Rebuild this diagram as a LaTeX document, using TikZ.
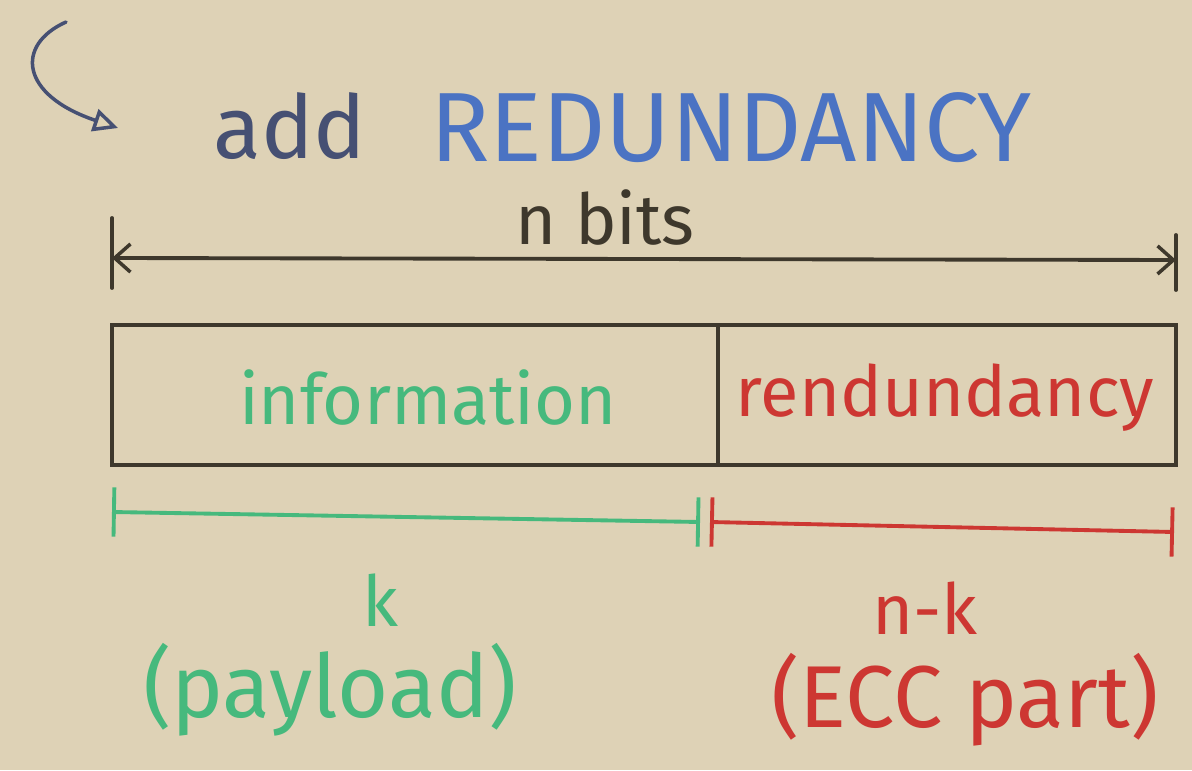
\documentclass[tikz,border=0pt]{standalone}
\usepackage{fontspec}
\setsansfont{Fira Sans}
\usetikzlibrary{arrows,arrows.meta,positioning,calc}
\definecolor{board}{RGB}{222,210,182}
\definecolor{ink}{RGB}{62,56,44}
\definecolor{infog}{RGB}{70,185,125}
\definecolor{redu}{RGB}{205,55,50}
\definecolor{titleb}{RGB}{75,115,195}
\definecolor{addb}{RGB}{70,80,115}
\tikzset{
    %Define standard arrow tip
    >={Straight Barb[length=9pt,width=16pt,line width=2pt]},
    %Define style for hand lettering
    hand/.style={
           font=\sffamily\fontsize{40}{44}\selectfont,
           inner sep=0pt,
           text centered},
    big/.style={
           hand,
           font=\sffamily\fontsize{56}{60}\selectfont},
    paren/.style={
           hand,
           font=\sffamily\fontsize{50}{54}\selectfont},
    % Define line styles
    pen/.style={
           line width=2.2pt,
           line cap=round,
           ink},
    span/.style={
           pen,
           {Bar[width=28pt,line width=2.2pt]}-{Bar[width=28pt,line width=2.2pt]}}
}
\begin{document}
\begin{tikzpicture}[x=0.02cm,y=-0.02cm]
\fill[board] (0,0) rectangle (1192,770);
% title
\coordinate (s) at (66,22);
\coordinate (t) at (118,128);
\draw[pen,addb,line width=2pt,-{Triangle[open,length=14pt,width=13pt,line width=2pt]}] (s) .. controls (15,45) and (20,95) .. (t);
\node[hand,addb,font=\sffamily\fontsize{50}{54}\selectfont](add) at (290,126){add};
\node[big,titleb,anchor=west](red) at (430,128){REDUNDANCY};
% n bits
\node[hand,ink](n) at (605,218){n bits};
\coordinate (n1) at (112,258);
\coordinate (n2) at (1176,260);
\draw[pen,<->] (n1) -- (n2);
\draw[pen] (n1) ++(0,-40) -- ++(0,70);
\draw[pen] (n2) ++(0,-25) -- ++(0,55);
% the word
\coordinate (b1) at (112,325);
\coordinate (b2) at (718,465);
\coordinate (b3) at (1176,325);
\draw[pen] (b1) rectangle (b3 |- b2);
\draw[pen] (b2 |- b1) -- (b2);
\node[hand,infog](info) at (428,398){information};
\node[hand,redu](rest) at (945,398){rendundancy};
% k and n-k
\coordinate (k1) at (112,512);
\coordinate (k2) at (700,522);
\coordinate (k3) at (1174,532);
\draw[span,infog] (k1) -- (k2);
\draw[span,redu] (k2) ++(10,0) -- (k3);
\node[hand,infog](k) at (380,600){k};
\node[paren,infog](pay) at (330,690){(payload)};
\node[hand,redu](nk) at (925,608){n-k};
\node[paren,redu](ecc) at (965,700){(ECC part)};
\end{tikzpicture}
\end{document}
